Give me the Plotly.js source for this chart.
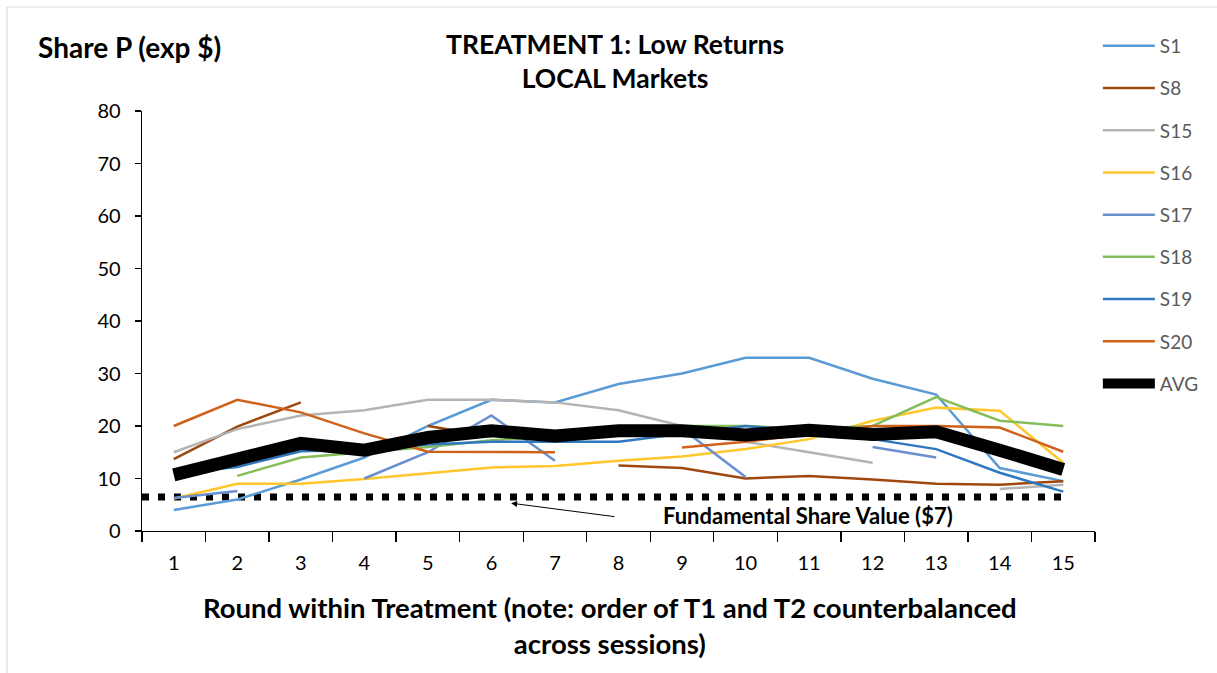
<!DOCTYPE html>
<html>
<head>
<meta charset="utf-8">
<script src="https://cdn.plot.ly/plotly-3.0.1.min.js"></script>
<style>html,body{margin:0;padding:0;background:#fff;}#chart{width:1217px;height:673px;}</style>
</head>
<body>
<div id="chart"></div>
<script>
const rounds = [1,2,3,4,5,6,7,8,9,10,11,12,13,14,15];
const S1  = [4, 6, 9.8, 14, 20, 25, 24.5, 28, 30, 33, 33, 29, 26, 12, 9.5];
const S8  = [13.7, 19.9, 24.5, null, 20, 18, null, 12.5, 12, 10, 10.5, 9.8, 9, 8.8, 9.5];
const S15 = [15, 19.4, 22, 23, 25, 25, 24.5, 23, 20, 17, 15, 13, null, 8, 8.8];
const S16 = [6.2, 9, 9, 9.9, 11, 12.1, 12.4, 13.4, 14.2, 15.6, 17.5, 21, 23.5, 22.9, 13];
const S17 = [6.3, 7.6, null, 10, 15, 22, 13.4, null, 19.5, 10.3, null, 16, 14, null, null];
const S18 = [null, 10.5, 14, 15, 16, 17.3, 18, 19, 20, 20, 19.5, 20, 25.5, 21, 20];
const S19 = [11, 12.2, 15.2, 15.5, 16.5, 17, 17, 17, 18.5, 20, 19, 17.5, 15.6, 11.1, 7.5];
const S20 = [20, 25, 22.6, 18.6, 15.1, 15, 15, null, 15.9, 17, 18.5, 20, 20, 19.7, 15.1];
const AVG = [10.7, 13.8, 16.7, 15.4, 17.8, 19.1, 18.1, 19.1, 19.1, 18.3, 19.2, 18.4, 18.9, 15.4, 11.7];
const FUND = 6.5;
const yTicks = [0,10,20,30,40,50,60,70,80];

const FONT = 'Lato, "Open Sans", sans-serif';
const series = [
  ['S1', S1, '#5B9BD5'],
  ['S8', S8, '#9E480E'],
  ['S15', S15, '#B4B4B4'],
  ['S16', S16, '#FFC72C'],
  ['S17', S17, '#6A8FD0'],
  ['S18', S18, '#85BD5B'],
  ['S19', S19, '#2F78C0'],
  ['S20', S20, '#D0611B']
];
const traces = [];
traces.push({
  x: [rounds[0]-0.5, rounds[rounds.length-1]],
  y: [FUND, FUND],
  mode: 'lines', showlegend: false, hoverinfo: 'skip',
  line: {color: '#000', width: 7, dash: '7px,9px'}
});
series.forEach(([name, vals, col], i) => {
  traces.push({
    x: rounds, y: vals, name: name, mode: 'lines',
    legendgroup: 'g' + i,
    line: {color: col, width: 2.5}
  });
});
traces.push({
  x: rounds, y: AVG, name: 'AVG', mode: 'lines', legendgroup: 'gavg',
  line: {color: '#000', width: 13}
});

const layout = {
  width: 1217, height: 673,
  margin: {l: 142, r: 122, t: 111, b: 142},
  paper_bgcolor: '#fff', plot_bgcolor: '#fff',
  font: {family: FONT, color: '#000', size: 20},
  xaxis: {
    range: [0.5, 15.5], tickvals: rounds, ticktext: rounds.map(String),
    ticks: '', showgrid: false, zeroline: false,
    showline: true, linecolor: '#000', linewidth: 1.3,
    tickfont: {family: FONT, size: 20, color: '#000'}, ticklabelstandoff: 14,
    minor: {tick0: 0.5, dtick: 1, ticks: 'outside', ticklen: 10, tickcolor: '#000', tickwidth: 1.3, showgrid: false}
  },
  yaxis: {
    range: [0, 80], tickvals: yTicks, ticks: 'outside', ticklen: 6, tickcolor: '#000', tickwidth: 1.3,
    showgrid: false, zeroline: false, showline: true, linecolor: '#000', linewidth: 1.3,
    tickfont: {family: FONT, size: 20, color: '#000'}, ticklabelstandoff: 10
  },
  legend: {
    x: 1.003, xanchor: 'left', y: 1.2, yanchor: 'top',
    font: {family: FONT, size: 19, color: '#595959'},
    tracegroupgap: 14.5, itemwidth: 52, bgcolor: 'rgba(0,0,0,0)', maxheight: 600
  },
  annotations: [
    {xref: 'paper', yref: 'paper', x: 0.496, y: 1.1202, xanchor: 'center', yanchor: 'middle',
     text: '<b>TREATMENT 1: Low Returns<br>LOCAL Markets</b>', showarrow: false,
     font: {family: FONT, size: 26.5, color: '#000'}},
    {xref: 'paper', yref: 'paper', x: -0.0136, y: 1.152, xanchor: 'center', yanchor: 'middle',
     text: '<b>Share P (exp $)</b>', showarrow: false, font: {family: FONT, size: 28, color: '#000'}},
    {xref: 'paper', yref: 'paper', x: 0.491, y: -0.225, xanchor: 'center', yanchor: 'middle',
     text: '<b>Round within Treatment (note: order of T1 and T2 counterbalanced<br>across sessions)</b>',
     showarrow: false, font: {family: FONT, size: 27.5, color: '#000'}},
    {x: 10.98, y: 3.0, xref: 'x', yref: 'y', text: '<b>Fundamental Share Value ($7)</b>', showarrow: false,
     font: {family: FONT, size: 22, color: '#000'}},
    {x: 6.31, y: 5.3, ax: 7.96, ay: 2.7, axref: 'x', ayref: 'y', xref: 'x', yref: 'y', text: '',
     showarrow: true, arrowhead: 2, arrowsize: 1.2, arrowwidth: 1, arrowcolor: '#000'}
  ],
  shapes: [
    {type: 'line', xref: 'paper', yref: 'paper', x0: -0.1417, x1: -0.1417, y0: -0.4, y1: 1.2476, line: {color: '#D9D9D9', width: 1.2}},
    {type: 'line', xref: 'paper', yref: 'paper', x0: -0.1417, x1: 1.2, y0: 1.2476, y1: 1.2476, line: {color: '#D9D9D9', width: 1.2}}
  ]
};
Plotly.newPlot('chart', traces, layout, {displayModeBar: false, staticPlot: true});
</script>
</body>
</html>
